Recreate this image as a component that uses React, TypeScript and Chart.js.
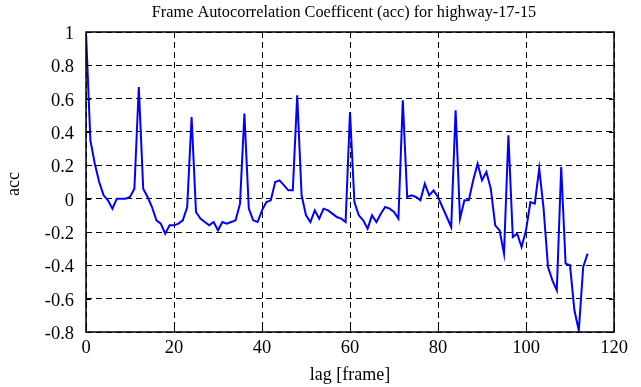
import React, { useEffect, useRef } from "react";
import { Chart, registerables } from "chart.js";

Chart.register(...registerables);

const TITLE = "Frame Autocorrelation Coefficent (acc) for highway-17-15";
const X_LABEL = "lag [frame]";
const Y_LABEL = "acc";

const lags: number[] = Array.from({ length: 115 }, (_, i) => i);

const acc: number[] = [
  1.0, 0.35, 0.21, 0.10, 0.02, -0.01, -0.06, 0.0, 0.0, 0.0,
  0.01, 0.06, 0.67, 0.06, 0.01, -0.05, -0.13, -0.15, -0.21, -0.16,
  -0.16, -0.15, -0.13, -0.05, 0.49, -0.08, -0.12, -0.14, -0.16, -0.14,
  -0.19, -0.14, -0.15, -0.14, -0.13, -0.03, 0.51, -0.06, -0.13, -0.14,
  -0.07, -0.02, -0.01, 0.10, 0.11, 0.08, 0.05, 0.05, 0.62, 0.02,
  -0.10, -0.14, -0.07, -0.12, -0.06, -0.07, -0.09, -0.11, -0.12, -0.14,
  0.52, -0.02, -0.10, -0.13, -0.18, -0.10, -0.14, -0.09, -0.05, -0.06,
  -0.08, -0.12, 0.59, 0.01, 0.02, 0.01, -0.01, 0.09, 0.02, 0.05,
  0.01, -0.05, -0.11, -0.17, 0.53, -0.12, -0.01, -0.01, 0.11, 0.21,
  0.11, 0.16, 0.06, -0.16, -0.19, -0.33, 0.38, -0.23, -0.21, -0.29,
  -0.19, -0.02, -0.03, 0.18, -0.06, -0.41, -0.49, -0.55, 0.19, -0.39,
  -0.40, -0.67, -0.79, -0.41, -0.33,
];

const X_MIN = 0;
const X_MAX = 120;
const X_STEP = 20;
const Y_MIN = -0.8;
const Y_MAX = 1;
const Y_STEP = 0.2;

const FONT = "'Liberation Serif', 'DejaVu Serif', serif";

const framePlugin = {
  id: "framePlugin",
  afterDraw(chart: any) {
    const { ctx, chartArea } = chart;
    const { left, right, top, bottom } = chartArea;
    const xs = chart.scales.x;
    const ys = chart.scales.y;
    ctx.save();
    ctx.strokeStyle = "#000";
    ctx.lineWidth = 1.5;
    ctx.setLineDash([]);
    ctx.strokeRect(left, top, right - left, bottom - top);
    const tl = 5;
    ctx.lineWidth = 1;
    ctx.beginPath();
    xs.ticks.forEach((t: any) => {
      const px = Math.round(xs.getPixelForValue(t.value)) + 0.5;
      ctx.moveTo(px, bottom);
      ctx.lineTo(px, bottom - tl);
      ctx.moveTo(px, top);
      ctx.lineTo(px, top + tl);
    });
    ys.ticks.forEach((t: any) => {
      const py = Math.round(ys.getPixelForValue(t.value)) + 0.5;
      ctx.moveTo(left, py);
      ctx.lineTo(left + tl, py);
      ctx.moveTo(right, py);
      ctx.lineTo(right - tl, py);
    });
    ctx.stroke();

    ctx.fillStyle = "#000";
    ctx.textAlign = "center";
    ctx.textBaseline = "alphabetic";
    ctx.font = `16.3px ${FONT}`;
    ctx.fillText(TITLE, (left + right) / 2 - 6, 17);
    ctx.font = `18px ${FONT}`;
    ctx.fillText(X_LABEL, (left + right) / 2, 380);
    ctx.translate(19, (top + bottom) / 2 + 2);
    ctx.rotate(-Math.PI / 2);
    ctx.fillText(Y_LABEL, 0, 0);
    ctx.restore();
  },
};

export default function App() {
  const ref = useRef<HTMLCanvasElement | null>(null);
  useEffect(() => {
    if (!ref.current) return;
    const chart = new Chart(ref.current, {
      type: "line",
      data: {
        labels: lags,
        datasets: [
          {
            data: lags.map((l, i) => ({ x: l, y: acc[i] })),
            borderColor: "#0000ff",
            borderWidth: 2,
            pointRadius: 0,
            tension: 0,
            fill: false,
          },
        ],
      },
      options: {
        animation: false,
        responsive: false,
        devicePixelRatio: 1,
        layout: { padding: { top: 32, right: 27, left: 0, bottom: 0 } },
        plugins: {
          legend: { display: false },
          tooltip: { enabled: false },
          title: { display: false },
        },
        scales: {
          x: {
            type: "linear",
            min: X_MIN,
            max: X_MAX,
            afterFit: (s: any) => {
              s.height = 55;
            },
            ticks: {
              stepSize: X_STEP,
              color: "#000",
              font: { family: FONT, size: 18.5 },
              padding: 5,
              maxRotation: 0,
            },
            grid: { color: "#000", lineWidth: 1, drawTicks: false },
            border: { display: false, dash: [6, 4] },
          },
          y: {
            type: "linear",
            min: Y_MIN,
            max: Y_MAX,
            afterFit: (s: any) => {
              s.width = 86;
            },
            ticks: {
              stepSize: Y_STEP,
              color: "#000",
              font: { family: FONT, size: 18.5 },
              padding: 12,
              labelOffset: 2,
              callback: (v: any) => String(Math.round(Number(v) * 10) / 10),
            },
            grid: { color: "#000", lineWidth: 1, drawTicks: false },
            border: { display: false, dash: [6, 4] },
          },
        },
      },
      plugins: [framePlugin],
    });
    return () => chart.destroy();
  }, []);
  return (
    <div style={{ position: "fixed", left: 0, top: 0, width: 641, height: 387, background: "#fff" }}>
      <canvas ref={ref} width={641} height={387} />
    </div>
  );
}
